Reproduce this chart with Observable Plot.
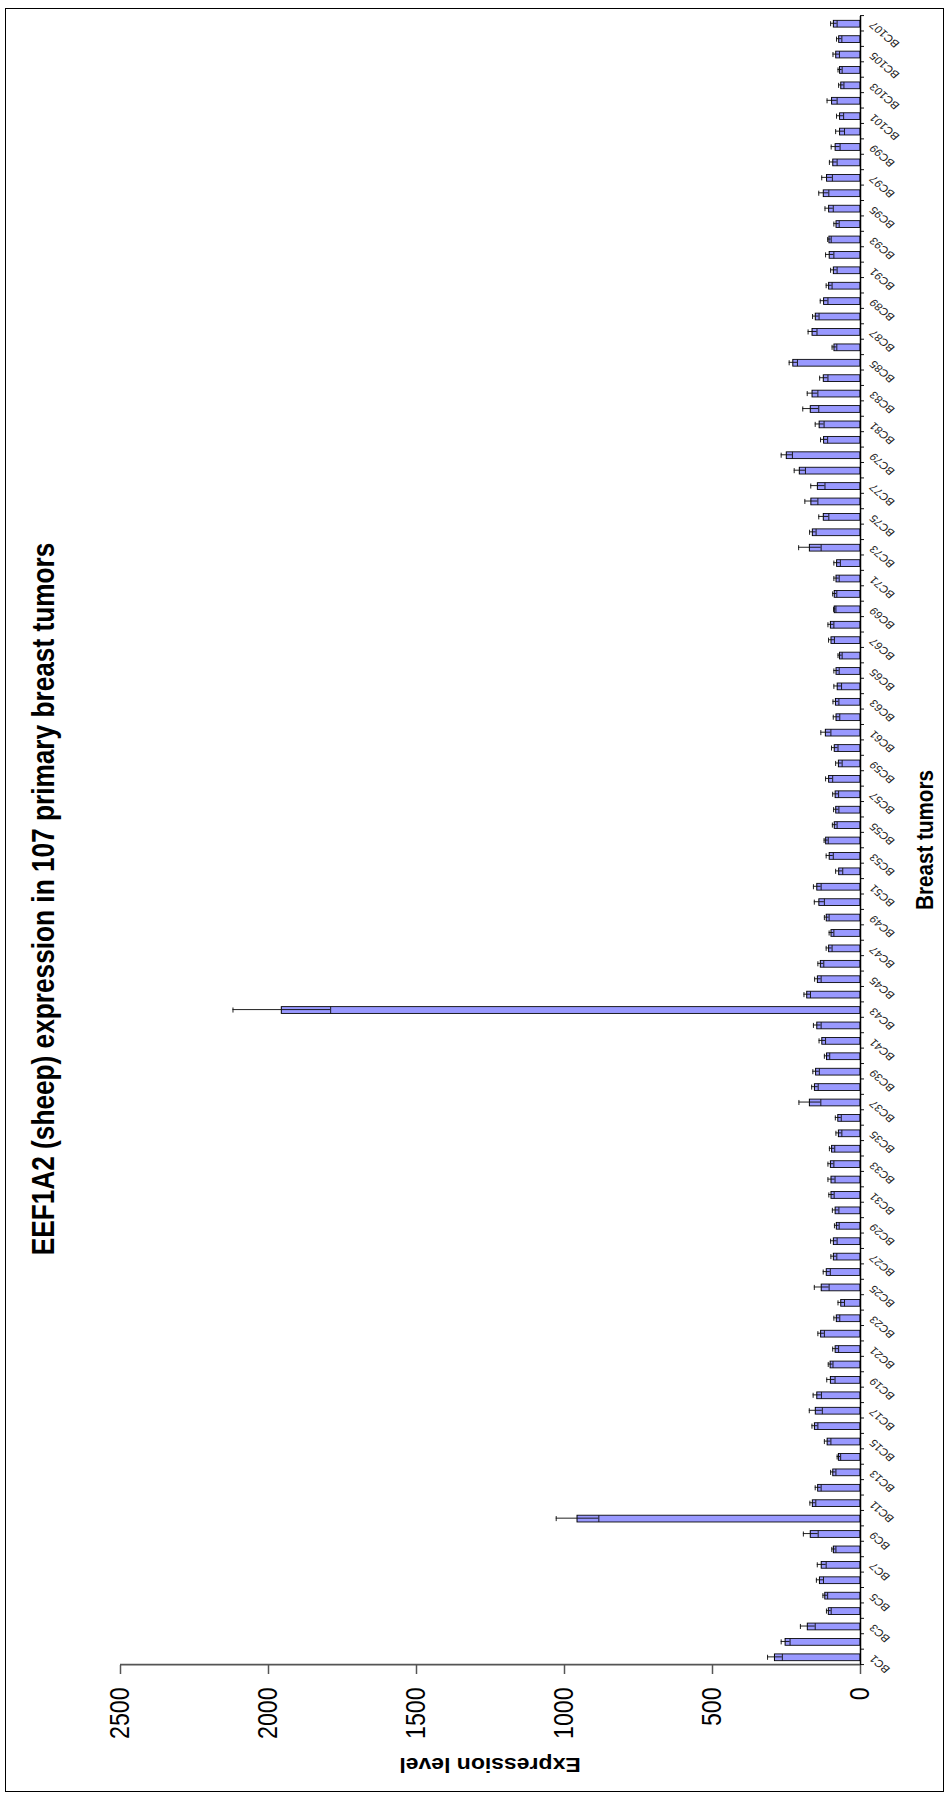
<!DOCTYPE html>
<html>
<head>
<meta charset="utf-8">
<script src="https://cdn.jsdelivr.net/npm/d3@7"></script>
<script src="https://cdn.jsdelivr.net/npm/@observablehq/plot@0.6"></script>
<style>
  html, body { margin: 0; padding: 0; background: #fff; }
  #page { position: relative; width: 951px; height: 1798px; overflow: hidden; background: #fff; }
  #chart { position: absolute; left: 0; top: 0; transform-origin: 0 0; }
  #border { position: absolute; left: 5px; top: 8px; width: 939px; height: 1784px;
            border: 1.5px solid #000; box-sizing: border-box; pointer-events: none; }
</style>
</head>
<body>
<div id="page"><div id="chart"></div><div id="border"></div></div>
<script>
// Tumor samples BC1 … BC107
const tumors = d3.range(1, 108).map(i => "BC" + i);

// Mean EEF1A2 expression level per tumor
const expression = [
  289, 253, 178, 107, 119, 137, 131, 90, 168, 956,
  161, 143, 92, 73, 111, 154, 151, 146, 100, 101,
  84, 133, 80, 65, 131, 114, 90, 90, 80, 84,
  98, 98, 100, 96, 73, 75, 171, 154, 150, 113,
  129, 146, 1955, 180, 144, 134, 106, 98, 114, 139,
  146, 72, 104, 116, 87, 82, 84, 106, 73, 87,
  117, 81, 83, 77, 81, 69, 98, 100, 87, 87,
  81, 79, 171, 161, 124, 166, 144, 205, 249, 123,
  138, 168, 162, 124, 227, 88, 162, 151, 123, 106,
  90, 104, 105, 81, 106, 124, 113, 92, 84, 69,
  69, 96, 65, 69, 82, 72, 90
];

// Error (± deviation) per tumor
const deviation = [
  25, 15, 25, 8, 8, 12, 15, 7, 25, 72,
  10, 10, 9, 6, 11, 10, 22, 14, 14, 8,
  10, 11, 10, 11, 25, 12, 10, 11, 8, 11,
  9, 12, 10, 9, 10, 10, 37, 11, 11, 9,
  11, 13, 165, 11, 11, 10, 10, 8, 8, 17,
  13, 12, 12, 7, 8, 9, 10, 12, 11, 11,
  17, 11, 10, 13, 9, 7, 10, 10, 4, 7,
  9, 11, 38, 11, 17, 22, 24, 19, 19, 12,
  15, 27, 18, 14, 14, 8, 15, 11, 13, 10,
  11, 14, 6, 9, 14, 17, 18, 13, 15, 15,
  12, 17, 9, 7, 11, 9, 11
];

const valueTicks = [0, 500, 1000, 1500, 2000, 2500];
const labelledTumors = tumors.filter((d, i) => i % 2 === 0);

const chartTitle = "EEF1A2 (sheep) expression in 107 primary breast tumors";
const valueTitle = "Expression level";
const categoryTitle = "Breast tumors";

const rows = tumors.map((t, i) => ({tumor: t, value: expression[i], err: deviation[i]}));

// The chart is laid out landscape, then turned a quarter turn and squeezed
// slightly along the category direction.
const pageH = 1798, H = 951;
const squeeze = 0.86;
const W = Math.round(pageH / squeeze);
const k = pageH / W;
const mL = 133 / k, mR = 16 / k, mT = 120, mB = 91;
const step = (W - mL - mR) / tumors.length;

const font = "'Liberation Sans', Arial, Helvetica, sans-serif";

const plot = Plot.plot({
  width: W,
  height: H,
  marginLeft: mL,
  marginRight: mR,
  marginTop: mT,
  marginBottom: mB,
  style: {fontFamily: font, background: "transparent", maxWidth: "none", overflow: "visible", color: "#000"},
  x: {domain: tumors, paddingInner: 0.56, paddingOuter: 0.28, axis: null},
  y: {domain: [0, 2500], axis: null},
  marks: [
    Plot.barY(rows, {x: "tumor", y: "value", fill: "#9999ff", stroke: "#000", strokeWidth: 1}),
    Plot.ruleX(rows, {x: "tumor", y1: d => d.value - d.err, y2: d => d.value + d.err, stroke: "#111", strokeWidth: 1}),
    Plot.tickY(rows, {x: "tumor", y: d => d.value + d.err, stroke: "#111", strokeWidth: 1, insetLeft: 1, insetRight: 1}),
    Plot.tickY(rows, {x: "tumor", y: d => d.value - d.err, stroke: "#111", strokeWidth: 1}),
    // category baseline and boundary ticks
    Plot.ruleY([0], {stroke: "#000", strokeWidth: 1.5}),
    Plot.ruleX(tumors, {x: d => d, y1: 0, y2: 0, insetBottom: -4, dx: step / 2, stroke: "#000"}),
    Plot.ruleX([tumors[0]], {x: d => d, y1: 0, y2: 0, insetBottom: -4, dx: -step / 2, stroke: "#000"}),
    // value axis line
    Plot.ruleX([tumors[0]], {x: d => d, y1: 0, y2: 2500, dx: -step / 2, stroke: "#555", strokeWidth: 2}),
    Plot.axisY({ticks: valueTicks, tickSize: 9 / k, tickPadding: 16, fontSize: 27,
                tickFormat: d3.format("d"), label: null, stroke: "#555", strokeWidth: 1.5}),
    Plot.axisX({ticks: labelledTumors, tickSize: 0, tickPadding: 11, tickRotate: -45,
                fontSize: 12, label: null, fill: "#222"})
  ]
});

const svg = d3.select(plot);
// chart title, centred on the whole chart
svg.append("text")
  .attr("x", W / 2).attr("y", 54)
  .attr("text-anchor", "middle")
  .attr("font-family", font).attr("font-weight", "bold").attr("font-size", 30.5)
  .text(chartTitle);
svg.append("text")
  .attr("transform", `translate(${33 / k},${(mT + (H - mB)) / 2}) rotate(-90)`)
  .attr("text-anchor", "middle").attr("dy", "0.35em")
  .attr("font-family", font).attr("font-weight", "bold").attr("font-size", 23)
  .text(valueTitle);
svg.append("text")
  .attr("x", (pageH - 840) / k).attr("y", 933)
  .attr("text-anchor", "middle")
  .attr("font-family", font).attr("font-weight", "bold").attr("font-size", 24)
  .text(categoryTitle);

const holder = document.getElementById("chart");
holder.style.width = W + "px";
holder.style.height = H + "px";
holder.style.transform = `translate(0px, ${pageH}px) rotate(-90deg) scale(${k}, 1)`;
holder.appendChild(plot);
</script>
</body>
</html>
